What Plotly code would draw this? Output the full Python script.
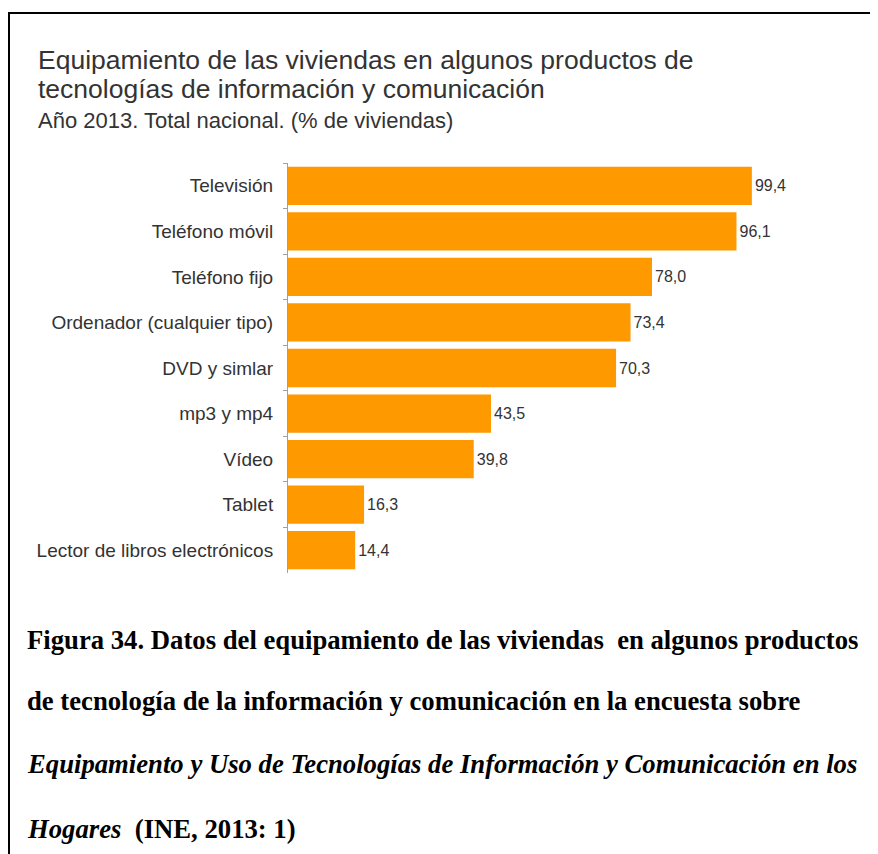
import plotly.graph_objects as go

categorias = ['Televisión', 'Teléfono móvil', 'Teléfono fijo', 'Ordenador (cualquier tipo)',
              'DVD y simlar', 'mp3 y mp4', 'Vídeo', 'Tablet', 'Lector de libros electrónicos']
porcentajes = [99.4, 96.1, 78.0, 73.4, 70.3, 43.5, 39.8, 16.3, 14.4]

# la página añade 8px de margen al cuerpo: se trabaja en coordenadas de la imagen menos 8
OFF = 8
W, H = 878 - OFF, 854 - OFF
L, R, T, B = 288 - OFF, 30, 163 - OFF, 281
PW, PH = W - L - R, H - T - B


def px_x(x):
    return (x - OFF - L) / PW


def px_y(y):
    return 1 - (y - OFF - T) / PH


fig = go.Figure(go.Bar(
    x=porcentajes,
    y=categorias,
    orientation='h',
    marker=dict(color='#FF9900', line=dict(width=0)),
    texttemplate='%{x:.1f}',
    textposition='outside',
    textfont=dict(family='Liberation Sans', size=16, color='#333333'),
    cliponaxis=False,
))

fig.update_layout(
    width=W, height=H,
    margin=dict(l=L, r=R, t=T, b=B),
    paper_bgcolor='white', plot_bgcolor='white',
    separators=',.',
    showlegend=False,
    bargap=0.16,
    font=dict(family='Liberation Sans', color='#333333'),
    xaxis=dict(visible=False, range=[0, 120]),
    yaxis=dict(
        autorange='reversed',
        showline=True, linecolor='#A0A0A0', linewidth=1,
        ticks='outside', ticklen=4, tickcolor='#A0A0A0', tickson='boundaries',
        ticklabelstandoff=10,
        tickfont=dict(family='Liberation Sans', size=19, color='#333333'),
        showgrid=False,
    ),
)

# marco de la figura
fig.add_shape(type='path', xref='paper', yref='paper',
              path=f'M {px_x(9)} {px_y(880)} L {px_x(9)} {px_y(13)} L {px_x(900)} {px_y(13)}',
              line=dict(color='black', width=2))

textos = [
    ('Equipamiento de las viviendas en algunos productos de', 36, 60, 26.5, 'Liberation Sans'),
    ('tecnologías de información y comunicación', 36, 89, 26.5, 'Liberation Sans'),
    ('Año 2013. Total nacional. (% de viviendas)', 36, 121, 22, 'Liberation Sans'),
    ('<b>Figura 34. Datos del equipamiento de las viviendas\u00a0 en algunos productos</b>', 25, 640, 26.7, 'Liberation Serif'),
    ('<b>de tecnología de la información y comunicación en la encuesta sobre</b>', 25, 701, 26.7, 'Liberation Serif'),
    ('<b><i>Equipamiento y Uso de Tecnologías de Información y Comunicación en los</i></b>', 25, 764, 26.7, 'Liberation Serif'),
    ('<b><i>Hogares</i>\u00a0 (INE, 2013: 1)</b>', 25, 829, 26.7, 'Liberation Serif'),
]
for txt, x, y, s, fam in textos:
    fig.add_annotation(text=txt, xref='paper', yref='paper', x=px_x(x), y=px_y(y),
                       xanchor='left', yanchor='middle', showarrow=False,
                       font=dict(family=fam, size=s, color='#333333' if 'Sans' in fam else 'black'))

fig.write_html('out.html')
